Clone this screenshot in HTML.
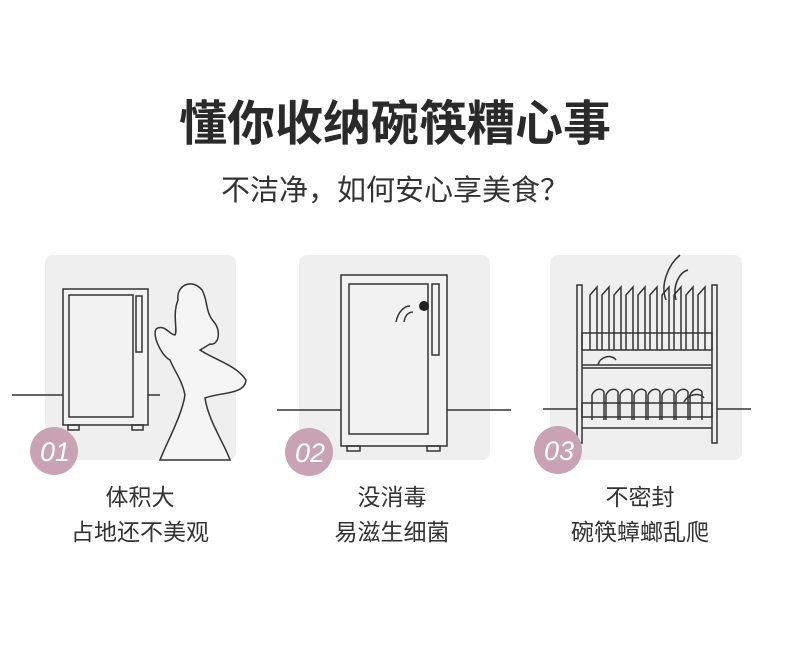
<!DOCTYPE html>
<html><head><meta charset="utf-8"><style>
body{margin:0;background:#fff;width:790px;height:656px;overflow:hidden;position:relative;font-family:"Liberation Sans","Noto Sans CJK SC",sans-serif}
.t{position:absolute;left:0;width:790px;text-align:center;color:#222;white-space:nowrap}
.l{position:absolute;text-align:center;color:#333;font-size:23px;width:240px;white-space:nowrap;line-height:35px}
svg{position:absolute;left:0;top:0}
</style></head><body>
<svg width="790" height="656" viewBox="0 0 790 656">
<g fill="#efefef">
<rect x="45" y="255" width="191" height="205" rx="8"/>
<rect x="299" y="255" width="191" height="205" rx="8"/>
<rect x="550" y="255" width="192" height="205" rx="8"/>
</g>
<g stroke="#333" stroke-width="1.5" fill="none">
<line x1="12" y1="395" x2="63" y2="395"/>
<line x1="148" y1="395" x2="160" y2="395"/>
<rect x="63" y="289" width="85" height="136" fill="#f2f2f2"/>
<rect x="69" y="295" width="64" height="122"/>
<rect x="136" y="296" width="6" height="56"/>
<rect x="68" y="425" width="11" height="5"/><rect x="132" y="425" width="11" height="5"/>
<path d="M178 300 C176 285,192 278,202 290 C208 300,205 312,214 322 C222 332,218 346,210 344 L200 350 C215 360,236 365,246 380 C245 395,220 392,205 398 C208 420,225 445,230 460 L160 460 C168 440,182 415,185 395 C182 380,175 372,170 360 C160 355,150 330,158 328 C165 325,170 335,175 335 C178 330,172 315,178 300Z" fill="#f5f5f5"/>
<line x1="277" y1="410" x2="341" y2="410"/>
<line x1="447" y1="410" x2="511" y2="410"/>
<rect x="341" y="275" width="106" height="171" fill="#f2f2f2"/>
<rect x="349" y="284" width="79" height="150"/>
<rect x="432" y="284" width="7" height="71"/>
<rect x="347" y="446" width="13" height="5"/><rect x="427" y="446" width="13" height="5"/>
<path d="M396 322 C398 312,404 306,410 306 M404 322 C405 316,408 312,413 312"/>
<line x1="543" y1="409" x2="577" y2="409"/>
<line x1="717" y1="409" x2="751" y2="409"/>
<rect x="577" y="285" width="5" height="158"/>
<rect x="712" y="285" width="5" height="158"/>
<rect x="582" y="333" width="130" height="17"/>
<line x1="582" y1="365" x2="712" y2="365"/><line x1="582" y1="368" x2="712" y2="368"/>
<rect x="582" y="403" width="130" height="14"/>
<line x1="582" y1="428" x2="712" y2="428"/>
<path d="M590 350 L590 295 L597 287 L597 350 M602 350 L602 295 L609 287 L609 350 M614 350 L614 295 L621 287 L621 350 M626 350 L626 295 L633 287 L633 350 M638 350 L638 295 L645 287 L645 350 M650 350 L650 295 L657 287 L657 350 M662 350 L662 295 L669 287 L669 350 M674 350 L674 295 L681 287 L681 350 M686 350 L686 295 L693 287 L693 350 M698 350 L698 295 L705 287 L705 350"/>
<path d="M592 420 L592 395 C595 388,602 388,604 392 L604 420 M606 420 L606 395 C609 388,616 388,618 392 L618 420 M620 420 L620 395 C623 388,630 388,632 392 L632 420 M634 420 L634 395 C637 388,644 388,646 392 L646 420 M648 420 L648 395 C651 388,658 388,660 392 L660 420 M662 420 L662 395 C665 388,672 388,674 392 L674 420 M676 420 L676 395 C679 388,686 388,688 392 L688 420 M690 420 L690 395 C693 388,700 388,702 392 L702 420"/>
<path d="M666 300 C660 285,668 265,680 255 M676 300 C672 285,680 272,688 270"/>
<path d="M598 365 C600 356,612 354,616 360 M684 402 C688 394,700 392,704 398"/>
</g>
<circle cx="424" cy="306" r="5" fill="#222"/>
<g fill="#c9a3b4">
<circle cx="54" cy="451" r="24"/>
<circle cx="309" cy="452" r="24"/>
<circle cx="558" cy="450" r="24"/>
</g>
<g fill="#fff" font-family="Liberation Sans,sans-serif" font-style="italic" font-size="27" text-anchor="middle">
<text x="55" y="461">01</text>
<text x="310" y="462">02</text>
<text x="559" y="460">03</text>
</g>
</svg>
<div class="t" style="top:96px;font-size:48px;font-weight:bold;line-height:58px;color:#2a2a2a">懂你收纳碗筷糟心事</div>
<div class="t" style="top:172px;font-size:29px;line-height:38px;color:#333">不洁净，如何安心享美食？</div>
<div class="l" style="left:20px;top:480px">体积大<br>占地还不美观</div>
<div class="l" style="left:272px;top:480px">没消毒<br>易滋生细菌</div>
<div class="l" style="left:520px;top:480px">不密封<br>碗筷蟑螂乱爬</div>
</body></html>
